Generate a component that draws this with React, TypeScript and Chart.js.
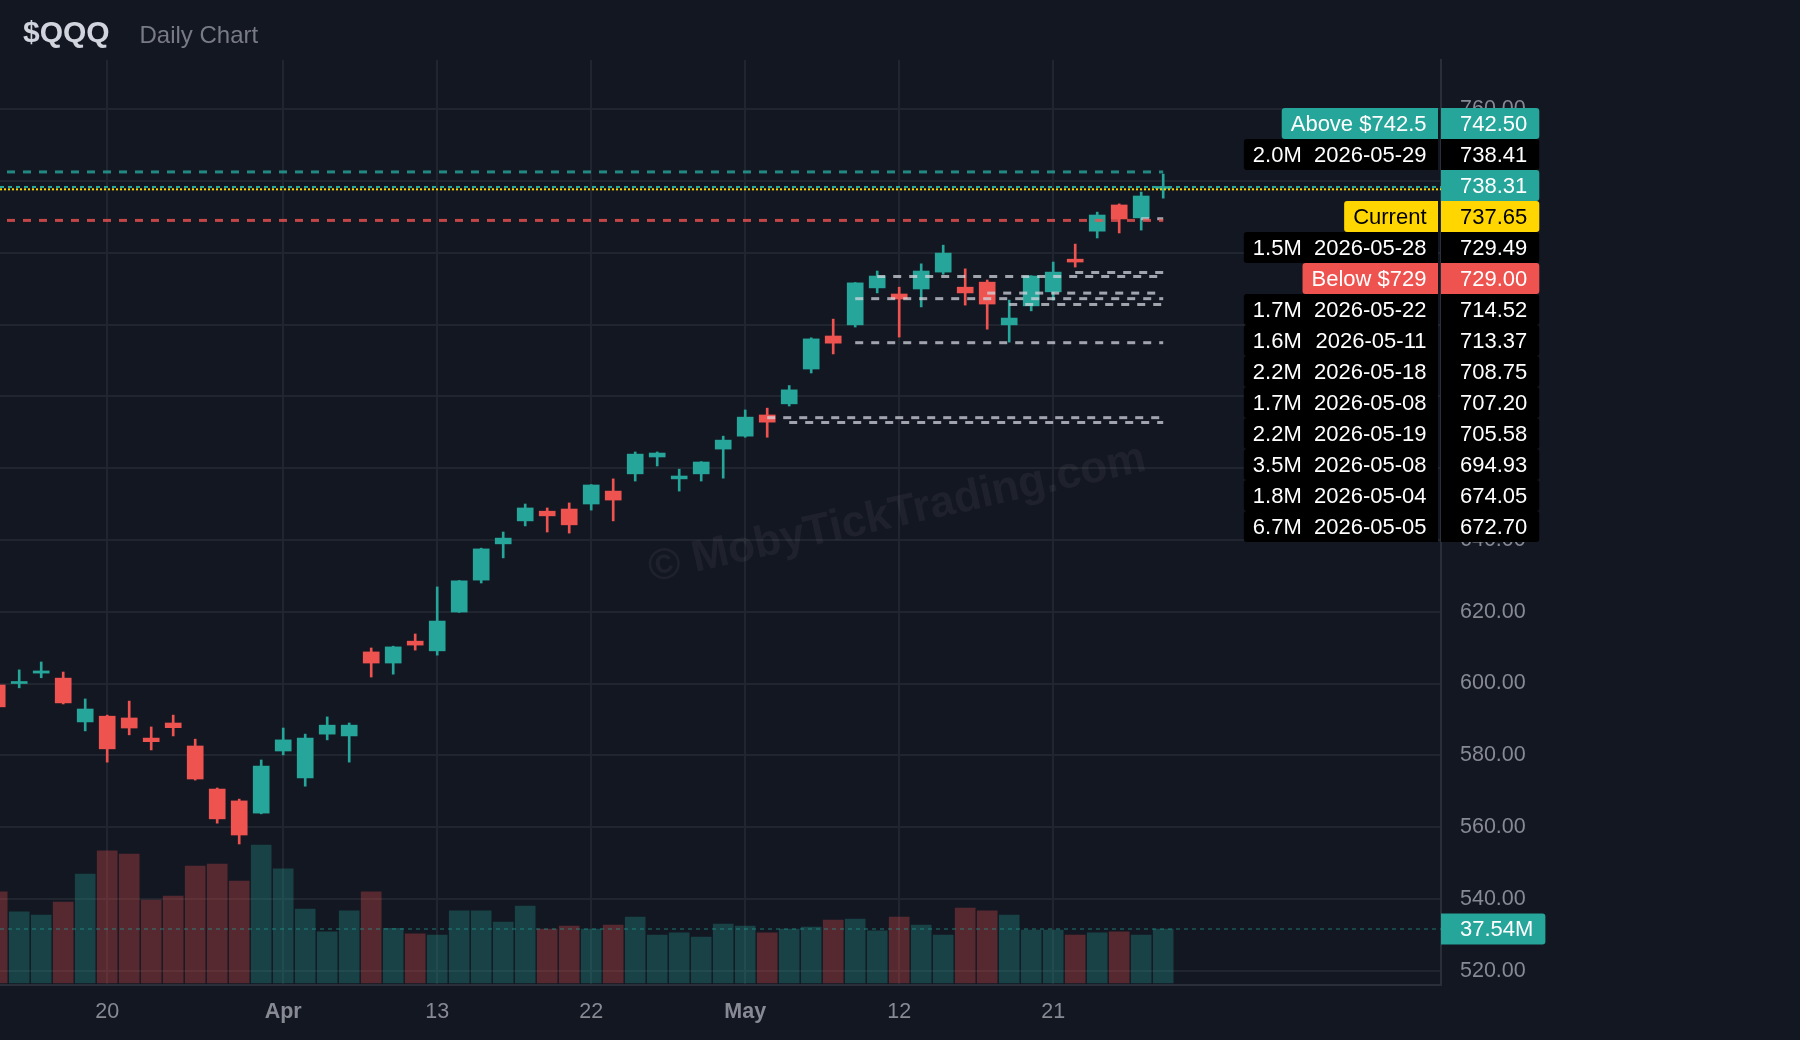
import React, { useEffect, useRef } from 'react';
import { Chart, registerables } from 'chart.js';

Chart.register(...registerables);

const FONT = "'Liberation Sans', Arial, Helvetica, sans-serif";
const BG = '#131722';
const UP = '#26a69a';
const DOWN = '#ef5350';
const UP_VOL = 'rgba(38,166,154,0.3)';
const DOWN_VOL = 'rgba(239,83,80,0.3)';
const GRID = '#21252f';
const AXIS_LINE = '#2a2e39';
const TEXT = '#878a93';
const YELLOW = '#ffd600';

const TITLE = '$QQQ';
const SUBTITLE = 'Daily Chart';
const WATERMARK = '© MobyTickTrading.com';

// ---- daily candles ----
const DATES = [
  '2026-03-13', '2026-03-16', '2026-03-17', '2026-03-18', '2026-03-19', '2026-03-20', '2026-03-23', '2026-03-24', '2026-03-25', '2026-03-26',
  '2026-03-27', '2026-03-30', '2026-03-31', '2026-04-01', '2026-04-02', '2026-04-06', '2026-04-07', '2026-04-08', '2026-04-09', '2026-04-10',
  '2026-04-13', '2026-04-14', '2026-04-15', '2026-04-16', '2026-04-17', '2026-04-20', '2026-04-21', '2026-04-22', '2026-04-23', '2026-04-24',
  '2026-04-27', '2026-04-28', '2026-04-29', '2026-04-30', '2026-05-01', '2026-05-04', '2026-05-05', '2026-05-06', '2026-05-07', '2026-05-08',
  '2026-05-11', '2026-05-12', '2026-05-13', '2026-05-14', '2026-05-15', '2026-05-18', '2026-05-19', '2026-05-20', '2026-05-21', '2026-05-22',
  '2026-05-26', '2026-05-27', '2026-05-28', '2026-05-29',
];
const OPEN = [
  599.6, 600.0, 602.9, 601.5, 589.3, 590.9, 590.4, 584.8, 589.0, 582.6,
  570.6, 567.3, 563.9, 581.2, 573.7, 585.9, 585.4, 608.8, 605.7, 611.8,
  609.1, 619.9, 628.8, 638.9, 645.3, 648.0, 648.6, 650.0, 653.6, 658.4,
  663.1, 657.0, 658.4, 665.3, 668.9, 674.8, 677.9, 687.6, 696.8, 699.9,
  710.2, 708.5, 709.9, 714.6, 710.4, 711.8, 699.9, 705.2, 709.1, 718.2,
  726.0, 733.3, 729.7, 737.9,
];
const HIGH = [
  600.5, 603.8, 606.0, 603.2, 595.7, 591.2, 595.1, 587.9, 591.2, 584.5,
  570.9, 567.8, 578.7, 587.6, 585.9, 590.7, 589.0, 609.9, 610.4, 613.8,
  626.9, 628.7, 637.7, 642.2, 650.0, 648.9, 650.3, 655.4, 657.0, 664.5,
  664.5, 659.7, 661.8, 668.9, 676.2, 676.7, 683.0, 696.3, 701.5, 711.7,
  714.9, 710.4, 716.9, 722.1, 715.5, 712.4, 706.8, 713.6, 717.4, 722.4,
  731.3, 733.6, 736.9, 741.9,
];
const LOW = [
  592.8, 598.8, 601.6, 594.3, 586.8, 578.1, 585.7, 581.5, 585.4, 573.1,
  561.1, 555.3, 563.7, 580.1, 571.4, 584.3, 578.1, 601.8, 602.6, 609.3,
  607.9, 619.8, 628.0, 635.0, 643.9, 642.2, 641.9, 648.3, 645.3, 656.4,
  660.6, 653.6, 656.4, 657.2, 668.6, 668.6, 677.3, 686.5, 691.8, 699.3,
  708.8, 696.5, 704.9, 714.0, 705.4, 698.7, 695.1, 703.8, 706.8, 716.0,
  724.1, 725.5, 726.3, 735.2,
];
const CLOSE = [
  593.5, 600.4, 603.5, 594.6, 592.9, 581.8, 587.6, 583.8, 587.7, 573.4,
  562.3, 557.8, 577.0, 584.3, 584.8, 588.4, 588.4, 605.7, 610.2, 610.7,
  617.4, 628.6, 637.5, 640.5, 648.9, 646.7, 644.2, 655.3, 651.1, 663.9,
  664.2, 657.8, 661.7, 667.8, 674.2, 672.8, 681.8, 696.0, 694.8, 711.6,
  713.5, 707.1, 714.9, 719.9, 708.8, 705.7, 701.8, 713.5, 714.6, 717.4,
  730.5, 729.4, 735.8, 738.31,
];
// volume in millions
const VOLUME = [
  63.3, 49.4, 47.3, 56.3, 75.8, 91.8, 89.7, 57.7, 60.5, 81.3,
  82.7, 70.9, 95.9, 79.3, 51.4, 35.5, 50.1, 63.3, 38.0, 34.1,
  33.4, 50.1, 50.1, 42.4, 53.5, 37.5, 39.6, 37.5, 40.3, 45.9,
  33.4, 34.8, 32.0, 41.0, 39.6, 34.8, 37.5, 38.9, 43.8, 44.5,
  36.2, 45.9, 40.3, 33.4, 52.1, 50.1, 47.3, 36.8, 36.8, 33.4,
  34.8, 35.5, 33.4, 37.54,
];

// ---- axis ticks ----
const X_TICK_DATES = ['2026-03-20', '2026-04-01', '2026-04-13', '2026-04-22', '2026-05-01', '2026-05-12', '2026-05-21'];
const X_TICK_LABELS = ['20', 'Apr', '13', '22', 'May', '12', '21'];
const X_TICK_BOLD = [false, true, false, false, true, false, false];
const PRICE_TICKS = [520, 540, 560, 580, 600, 620, 640, 660, 680, 700, 720, 740, 760];

// ---- levels ----
const LEVEL_PRICES = [738.41, 729.49, 714.52, 713.37, 708.75, 707.2, 705.58, 694.93, 674.05, 672.7];
const LEVEL_VOLUMES = ['2.0M', '1.5M', '1.7M', '1.6M', '2.2M', '1.7M', '2.2M', '3.5M', '1.8M', '6.7M'];
const LEVEL_DATES = ['2026-05-29', '2026-05-28', '2026-05-22', '2026-05-11', '2026-05-18', '2026-05-08', '2026-05-19', '2026-05-08', '2026-05-04', '2026-05-05'];
const ALERT_ABOVE = 742.5;
const ALERT_BELOW = 729;
const CURRENT_PRICE = 737.65;

const LAST = DATES.length - 1;

function roundRect(ctx: CanvasRenderingContext2D, x: number, y: number, w: number, h: number, r: number[]) {
  ctx.beginPath();
  if ((ctx as any).roundRect) (ctx as any).roundRect(x, y, w, h, r);
  else ctx.rect(x, y, w, h);
  ctx.fill();
}

const overlayPlugin = {
  id: 'overlay',
  beforeDatasetsDraw(chart: any) {
    const { ctx, chartArea: a } = chart;
    ctx.save();
    ctx.translate(a.left + (a.right - a.left) * 0.6225, a.top + (a.bottom - a.top) * 0.491);
    ctx.rotate((-12.7 * Math.PI) / 180);
    ctx.font = `bold 44px ${FONT}`;
    ctx.fillStyle = 'rgba(255,255,255,0.05)';
    ctx.textAlign = 'center';
    ctx.textBaseline = 'middle';
    ctx.fillText(WATERMARK, 0, 0);
    ctx.restore();
  },
  afterDatasetsDraw(chart: any) {
    const { ctx, chartArea: a, scales } = chart;
    const x = scales.x, y = scales.y, yv = scales.yv;
    const xLast = x.getPixelForValue(LAST);
    ctx.save();
    ctx.beginPath();
    ctx.rect(a.left, a.top, a.right - a.left, a.bottom - a.top);
    ctx.clip();
    const hline = (py: number, x0: number, x1: number, color: string, w: number, dash: number[], off = 0) => {
      if (x1 - x0 < 1) return;
      ctx.beginPath();
      ctx.strokeStyle = color;
      ctx.lineWidth = w;
      ctx.setLineDash(dash);
      ctx.lineDashOffset = off;
      ctx.moveTo(x0, py);
      ctx.lineTo(x1, py);
      ctx.stroke();
    };
    hline(yv.getPixelForValue(VOLUME[LAST]), a.left, a.right, 'rgba(38,166,154,0.45)', 1.5, [4, 4]);
    LEVEL_PRICES.forEach((p, k) => {
      const x0 = x.getPixelForValue(DATES.indexOf(LEVEL_DATES[k]));
      hline(y.getPixelForValue(p), x0, xLast, 'rgba(209,212,220,0.75)', 3, [8, 8]);
    });
    hline(y.getPixelForValue(ALERT_ABOVE), a.left, xLast, 'rgba(38,166,154,0.8)', 3, [8, 8], 9);
    hline(y.getPixelForValue(ALERT_BELOW), a.left, xLast, 'rgba(239,83,80,0.8)', 3, [8, 8], 9);
    hline(y.getPixelForValue(CLOSE[LAST]), a.left, a.right, UP, 2, [4, 4]);
    hline(y.getPixelForValue(CURRENT_PRICE), a.left, a.right, YELLOW, 2, [2, 2]);
    ctx.restore();
  },
  afterDraw(chart: any) {
    const { ctx, chartArea: a, scales } = chart;
    const y = scales.y, yv = scales.yv;
    const H = 31;
    ctx.save();
    ctx.font = `22px ${FONT}`;
    ctx.textBaseline = 'middle';

    type Row = { price: number; left: string | null; vol?: string; date?: string; bg: string; fg: string; c?: number };
    const rows: Row[] = [
      { price: ALERT_ABOVE, left: `Above $${ALERT_ABOVE}`, bg: UP, fg: '#ffffff' },
      ...LEVEL_PRICES.map((p, k) => ({
        price: p,
        left: `${LEVEL_VOLUMES[k]}  ${LEVEL_DATES[k]}`,
        vol: LEVEL_VOLUMES[k],
        date: LEVEL_DATES[k],
        bg: '#000000',
        fg: '#ffffff',
      })),
      { price: CLOSE[LAST], left: null, bg: UP, fg: '#ffffff' },
      { price: CURRENT_PRICE, left: 'Current', bg: YELLOW, fg: '#000000' },
      { price: ALERT_BELOW, left: `Below $${ALERT_BELOW}`, bg: DOWN, fg: '#ffffff' },
    ];
    rows.sort((p, q) => q.price - p.price);
    rows.forEach((r) => (r.c = y.getPixelForValue(r.price)));

    // widest level text -> common column width for the level rows
    let levelW = 0;
    rows.forEach((r) => {
      if (r.vol) levelW = Math.max(levelW, ctx.measureText(r.left as string).width);
    });

    // stack labels without overlap (cluster placement)
    const minTop = a.top + 48;
    const maxBottom = a.bottom;
    type Cl = { items: Row[]; sum: number };
    const topOf = (c: Cl) => {
      const n = c.items.length;
      let t = c.sum / n - (n * H) / 2;
      t = Math.min(t, maxBottom - n * H);
      return Math.max(t, minTop);
    };
    const clusters: Cl[] = [];
    for (const r of rows) {
      clusters.push({ items: [r], sum: r.c as number });
      while (clusters.length > 1) {
        const b = clusters[clusters.length - 1];
        const p = clusters[clusters.length - 2];
        if (topOf(p) + p.items.length * H > topOf(b)) {
          clusters.pop();
          p.items.push(...b.items);
          p.sum += b.sum;
        } else break;
      }
    }

    const drawValueBox = (cy: number, text: string, bg: string, fg: string) => {
      const tw = ctx.measureText(text).width;
      const w = Math.max(97, 19 + tw + 12);
      ctx.fillStyle = bg;
      roundRect(ctx, a.right, cy - H / 2, w, H, [0, 3, 3, 0]);
      ctx.fillStyle = fg;
      ctx.textAlign = 'left';
      ctx.fillText(text, a.right + 19, cy + 1);
    };

    for (const c of clusters) {
      const t = topOf(c);
      c.items.forEach((r, k) => {
        const cy = t + k * H + H / 2;
        if (r.left) {
          const right = a.right - 3;
          const tw = r.vol ? levelW : ctx.measureText(r.left).width;
          const left = right - 11.5 - tw - 9;
          ctx.fillStyle = r.bg;
          roundRect(ctx, left, cy - H / 2, right - left, H, [3, 0, 0, 3]);
          ctx.fillStyle = r.fg;
          if (r.vol) {
            ctx.textAlign = 'left';
            ctx.fillText(r.vol, left + 9, cy + 1);
            ctx.textAlign = 'right';
            ctx.fillText(r.date as string, right - 11.5, cy + 1);
          } else {
            ctx.textAlign = 'right';
            ctx.fillText(r.left, right - 11.5, cy + 1);
          }
        }
        drawValueBox(cy, r.price.toFixed(2), r.bg, r.fg);
      });
    }

    // last volume label
    drawValueBox(yv.getPixelForValue(VOLUME[LAST]), `${VOLUME[LAST].toFixed(2)}M`, UP, '#ffffff');

    // header
    ctx.textBaseline = 'alphabetic';
    ctx.textAlign = 'left';
    ctx.font = `bold 30px ${FONT}`;
    ctx.fillStyle = '#d1d4dc';
    ctx.fillText(TITLE, 23, 42);
    ctx.font = `24px ${FONT}`;
    ctx.fillStyle = '#787b86';
    ctx.fillText(SUBTITLE, 139.5, 42.5);
    ctx.restore();
  },
};

export default function App() {
  const ref = useRef<HTMLCanvasElement>(null);

  useEffect(() => {
    document.body.style.margin = '0';
    document.body.style.background = BG;
    const canvas = ref.current as HTMLCanvasElement;
    const idx = DATES.map((_, i) => i);
    const up = (i: number) => CLOSE[i] >= OPEN[i];

    const chart = new Chart(canvas, {
      type: 'bar',
      data: {
        datasets: [
          {
            label: 'Volume',
            data: idx.map((i) => ({ x: i, y: VOLUME[i] })),
            backgroundColor: idx.map((i) => (up(i) ? UP_VOL : DOWN_VOL)),
            barThickness: 20,
            grouped: false,
            order: 3,
            yAxisID: 'yv',
          },
          {
            label: 'Wick',
            data: idx.map((i) => ({ x: i, y: [LOW[i], HIGH[i]] })),
            backgroundColor: idx.map((i) => (up(i) ? UP : DOWN)),
            barThickness: 2,
            grouped: false,
            order: 2,
            yAxisID: 'y',
          },
          {
            label: 'Body',
            data: idx.map((i) => ({ x: i, y: [OPEN[i], CLOSE[i]] })),
            backgroundColor: idx.map((i) => (up(i) ? UP : DOWN)),
            barThickness: 16,
            minBarLength: 2,
            grouped: false,
            order: 1,
            yAxisID: 'y',
          },
        ] as any,
      },
      options: {
        responsive: false,
        maintainAspectRatio: false,
        animation: false,
        devicePixelRatio: 1,
        layout: { padding: { top: 60, left: 0, right: 0, bottom: 0 } },
        plugins: {
          legend: { display: false },
          tooltip: { enabled: false },
          title: { display: false },
        },
        scales: {
          x: {
            type: 'linear',
            min: 0.127,
            max: 65.627,
            offset: false,
            afterBuildTicks: (s: any) => {
              s.ticks = X_TICK_DATES.map((d) => ({ value: DATES.indexOf(d) }));
            },
            afterFit: (s: any) => {
              s.height = 55;
            },
            grid: { color: GRID, lineWidth: 2, drawTicks: false, offset: false },
            border: { display: true, color: AXIS_LINE, width: 2 },
            ticks: {
              autoSkip: false,
              maxRotation: 0,
              padding: 14,
              color: TEXT,
              font: (c: any) => ({ family: FONT, size: 21.5, weight: X_TICK_BOLD[c.index] ? 'bold' : 'normal' }),
              callback: (_v: any, i: number) => X_TICK_LABELS[i],
            },
          },
          y: {
            type: 'linear',
            position: 'right',
            min: 516.02,
            max: 773.68,
            afterBuildTicks: (s: any) => {
              s.ticks = PRICE_TICKS.map((v) => ({ value: v }));
            },
            afterFit: (s: any) => {
              s.width = 359;
            },
            grid: { color: GRID, lineWidth: 2, drawTicks: false },
            border: { display: true, color: AXIS_LINE, width: 2 },
            ticks: {
              padding: 19,
              color: TEXT,
              font: { family: FONT, size: 21.5 },
              callback: (v: any) => Number(v).toFixed(2),
            },
          },
          yv: {
            type: 'linear',
            display: false,
            min: -1.39,
            max: 641.66,
          },
        },
      } as any,
      plugins: [overlayPlugin],
    });
    return () => chart.destroy();
  }, []);

  return (
    <div style={{ position: 'fixed', left: 0, top: 0, width: 1800, height: 1040, background: BG }}>
      <canvas ref={ref} width={1800} height={1040} style={{ display: 'block', width: 1800, height: 1040 }} />
    </div>
  );
}
